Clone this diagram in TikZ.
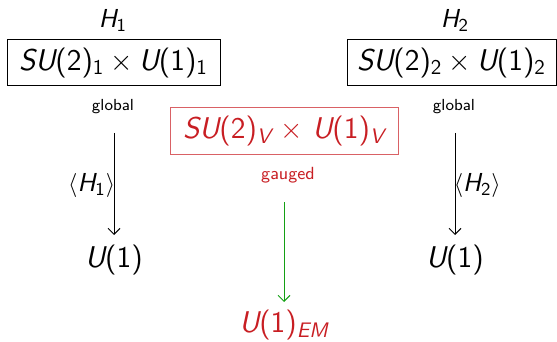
\documentclass[tikz,border=0pt]{standalone}
\usetikzlibrary{arrows.meta}
\definecolor{myred}{RGB}{200,30,35}
\definecolor{mygreen}{RGB}{20,160,20}
\newcommand{\vv}[1]{{\slshape #1}}
\newcommand{\sub}[1]{\textsubscript{#1}}
\newcommand{\tms}{\hspace{0.2em}$\times$\hspace{0.2em}}
\newcommand{\tmsw}{\hspace{0.3em}$\times$\hspace{0.3em}}
\tikzset{
  px/.style={x=0.5pt,y=-0.5pt},
  hlab/.style={font=\fontsize{13}{15}\selectfont\sffamily, inner sep=0pt},
  ulab/.style={font=\fontsize{15}{17}\selectfont\sffamily, inner sep=0pt},
  bigbox/.style={draw, line width=0.5pt, inner sep=0pt, font=\fontsize{15}{17}\selectfont\sffamily, minimum height=23pt},
  small/.style={font=\fontsize{8}{9}\selectfont\sffamily, inner sep=0pt},
  arr/.style={-{Straight Barb[length=3pt,width=6pt]}, line width=0.5pt}
}
\begin{document}
\begin{tikzpicture}[px]
\useasboundingbox (0,0) rectangle (557,342);
\node[hlab] (h1) at (113,20) {\vv{H}\sub{1}};
\node[hlab] (h2) at (455,20) {\vv{H}\sub{2}};
\node[bigbox, minimum width=106.5pt] (b1) at (113.5,63) {\vv{SU}(2)\sub{1}\tms\vv{U}(1)\sub{1}};
\node[bigbox, minimum width=104.5pt] (b2) at (451.5,63) {\vv{SU}(2)\sub{2}\tms\vv{U}(1)\sub{2}};
\node[small] (g1) at (113,107) {global};
\node[small] (g2) at (454,107) {global};
\node[bigbox, draw=myred!70, text=myred, minimum width=114pt, minimum height=23.5pt] (bv) at (284,131.5) {\vv{SU}(2)\sub{\vv{V}}\tmsw\vv{U}(1)\sub{\vv{V}}};
\node[small, font=\fontsize{8.8}{10}\selectfont\sffamily, text=myred] (ga) at (288,175) {gauged};
\coordinate (a1s) at (114,133);
\node[ulab] (u1) at (114,260) {\vv{U}(1)};
\coordinate (a2s) at (455,133);
\node[ulab] (u2) at (455,260) {\vv{U}(1)};
\coordinate (a3s) at (284,202);
\node[ulab, text=myred] (uem) at (284,325) {\vv{U}(1)\sub{\vv{EM}}};
\draw[arr] (a1s) -- (114,235);
\draw[arr] (a2s) -- (455,235);
\draw[arr, mygreen] (a3s) -- (284,302);
\node[hlab, anchor=east] (v1) at (115.5,185) {$\langle$\vv{H}\sub{1}$\rangle$};
\node[hlab, anchor=west] (v2) at (453.5,185) {$\langle$\vv{H}\sub{2}$\rangle$};
\end{tikzpicture}
\end{document}
